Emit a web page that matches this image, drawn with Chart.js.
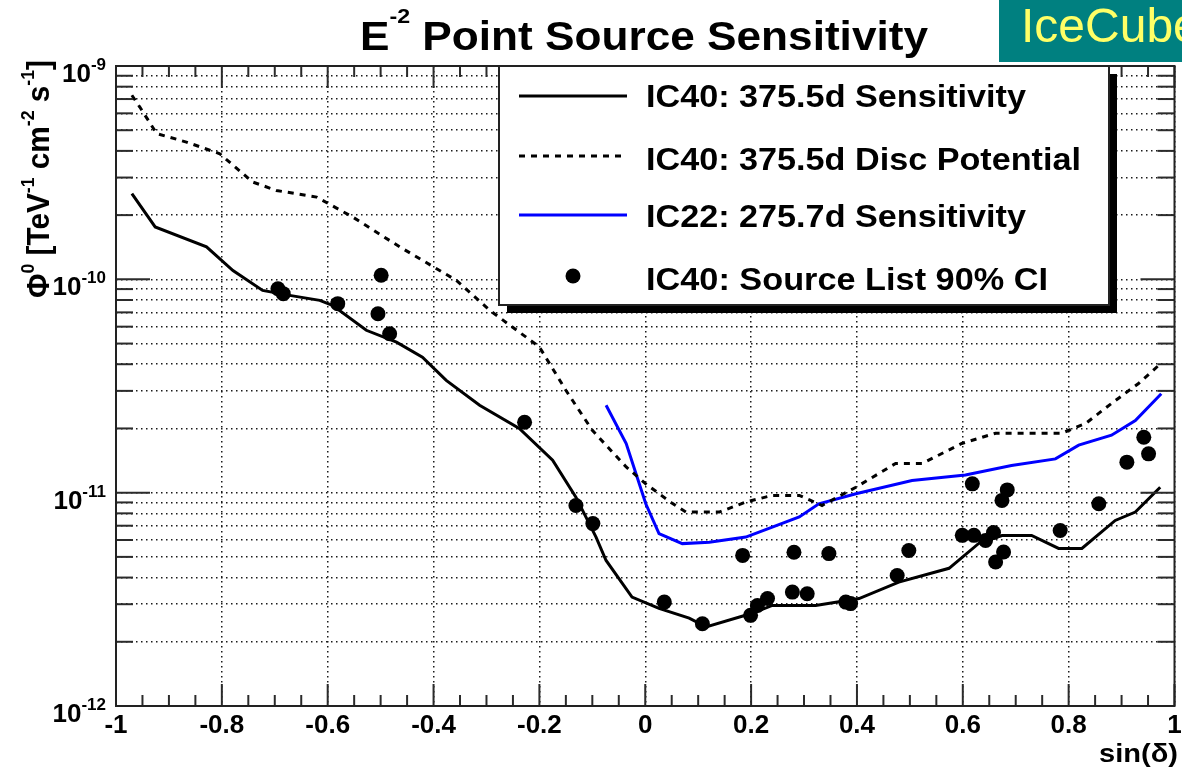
<!DOCTYPE html>
<html>
<head>
<meta charset="utf-8">
<script src="https://cdn.jsdelivr.net/npm/chart.js@4.4.1/dist/chart.umd.min.js"></script>
<style>
    html, body { margin: 0; padding: 0; background: #fff; }
    #wrap { width: 1182px; height: 770px; }
</style>
</head>
<body>
<div id="wrap"><canvas id="myChart" width="1182" height="770"></canvas></div>
<script>
// IC40 sensitivity (solid black)
const sensX = [-0.970, -0.926, -0.829, -0.779, -0.723, -0.672, -0.615, -0.591, -0.527, -0.470, -0.421, -0.376, -0.313, -0.238, -0.175, -0.131, -0.093, -0.074, -0.025, 0.026, 0.083, 0.115, 0.202, 0.240, 0.322, 0.404, 0.479, 0.574, 0.630, 0.674, 0.730, 0.781, 0.825, 0.888, 0.926, 0.973];
const sensY = [2.52e-10, 1.76e-10, 1.42e-10, 1.10e-10, 8.87e-11, 8.41e-11, 7.97e-11, 7.55e-11, 5.77e-11, 5.08e-11, 4.32e-11, 3.36e-11, 2.57e-11, 2.00e-11, 1.42e-11, 9.53e-12, 6.19e-12, 4.81e-12, 3.24e-12, 2.87e-12, 2.58e-12, 2.35e-12, 2.72e-12, 2.96e-12, 2.96e-12, 3.19e-12, 3.81e-12, 4.42e-12, 5.78e-12, 6.30e-12, 6.30e-12, 5.48e-12, 5.48e-12, 7.41e-12, 8.11e-12, 1.06e-11];

// IC40 discovery potential (dotted black)
const discX = [-0.970, -0.955, -0.923, -0.867, -0.804, -0.742, -0.697, -0.621, -0.553, -0.464, -0.357, -0.294, -0.200, -0.150, -0.100, -0.036, 0.001, 0.051, 0.077, 0.140, 0.190, 0.240, 0.291, 0.334, 0.398, 0.473, 0.523, 0.598, 0.662, 0.787, 0.832, 0.881, 0.932, 0.970];
const discY = [7.29e-10, 6.42e-10, 4.82e-10, 4.40e-10, 3.88e-10, 2.86e-10, 2.61e-10, 2.43e-10, 1.96e-10, 1.42e-10, 9.89e-11, 7.16e-11, 4.82e-11, 3.02e-11, 1.96e-11, 1.32e-11, 1.10e-11, 8.91e-12, 8.11e-12, 8.11e-12, 9.04e-12, 9.71e-12, 9.71e-12, 8.71e-12, 1.06e-11, 1.37e-11, 1.37e-11, 1.70e-11, 1.90e-11, 1.90e-11, 2.11e-11, 2.62e-11, 3.25e-11, 3.95e-11];

// IC22 sensitivity (blue)
const ic22X = [-0.074, -0.036, 0.001, 0.026, 0.070, 0.121, 0.190, 0.240, 0.291, 0.328, 0.398, 0.504, 0.605, 0.692, 0.775, 0.819, 0.881, 0.926, 0.975];
const ic22Y = [2.57e-11, 1.70e-11, 8.87e-12, 6.43e-12, 5.77e-12, 5.86e-12, 6.19e-12, 6.90e-12, 7.69e-12, 8.87e-12, 9.89e-12, 1.14e-11, 1.21e-11, 1.34e-11, 1.44e-11, 1.67e-11, 1.86e-11, 2.18e-11, 2.91e-11];

// IC40 source list 90% CI upper limits (dots)
const srcX = [-0.694, -0.684, -0.581, -0.499, -0.505, -0.483, -0.228, -0.131, -0.099, 0.036, 0.108, 0.184, 0.199, 0.212, 0.231, 0.281, 0.278, 0.306, 0.347, 0.379, 0.388, 0.476, 0.498, 0.599, 0.621, 0.643, 0.658, 0.662, 0.677, 0.674, 0.684, 0.618, 0.784, 0.857, 0.910, 0.942, 0.951];
const srcY = [9.03e-11, 8.57e-11, 7.69e-11, 1.045e-10, 6.90e-11, 5.56e-11, 2.14e-11, 8.71e-12, 7.16e-12, 3.07e-12, 2.43e-12, 5.08e-12, 2.66e-12, 2.96e-12, 3.19e-12, 5.26e-12, 3.42e-12, 3.36e-12, 5.18e-12, 3.07e-12, 3.02e-12, 4.09e-12, 5.36e-12, 6.31e-12, 6.31e-12, 5.97e-12, 6.51e-12, 4.73e-12, 5.27e-12, 9.20e-12, 1.03e-11, 1.10e-11, 6.65e-12, 8.87e-12, 1.39e-11, 1.82e-11, 1.52e-11];

const xMajor = [-1, -0.8, -0.6, -0.4, -0.2, 0, 0.2, 0.4, 0.6, 0.8, 1];
const xTickLabels = ['-1', '-0.8', '-0.6', '-0.4', '-0.2', '0', '0.2', '0.4', '0.6', '0.8', '1'];
const yDecades = [1e-12, 1e-11, 1e-10, 1e-9];
const yTickExp = ['-12', '-11', '-10', '-9'];
const mantissas = [1, 2, 3, 4, 5, 6, 7, 8, 9];

const FONT = '"Liberation Sans", Arial, Helvetica, sans-serif';

function pts(xs, ys) {
    return xs.map((x, i) => ({x: x, y: ys[i]}));
}

// all grid values of the log axis (1..9 x 10^n)
const yGrid = [];
yDecades.forEach(d => mantissas.forEach(m => {
    if (d * m <= 1.0001e-9) yGrid.push(d * m);
}));

// text made of pieces [text, size, rise], optionally squeezed to a width
function rich(ctx, parts, x, y, align, width, weight) {
    weight = weight || 'bold';
    let total = 0;
    const ws = parts.map(p => {
        ctx.font = weight + ' ' + p[1] + 'px ' + FONT;
        const w = ctx.measureText(p[0]).width;
        total += w;
        return w;
    });
    const sx = width ? width / total : 1;
    const w = total * sx;
    const start = align === 'right' ? x - w : (align === 'center' ? x - w / 2 : x);
    ctx.save();
    ctx.translate(start, y);
    ctx.scale(sx, 1);
    ctx.textBaseline = 'alphabetic';
    ctx.textAlign = 'left';
    let cx = 0;
    parts.forEach((p, i) => {
        ctx.font = weight + ' ' + p[1] + 'px ' + FONT;
        ctx.fillText(p[0], cx, -p[2]);
        cx += ws[i];
    });
    ctx.restore();
}

function seg(ctx, x1, y1, x2, y2) {
    ctx.beginPath();
    ctx.moveTo(x1, y1);
    ctx.lineTo(x2, y2);
    ctx.stroke();
}

const rootStyle = {
    id: 'rootStyle',
    afterDatasetsDraw(chart) {
        const ctx = chart.ctx;
        const a = chart.chartArea;
        const xs = chart.scales.x, ys = chart.scales.y;
        ctx.save();
        ctx.strokeStyle = '#2b2b2b';
        ctx.lineWidth = 2;
        ctx.setLineDash([]);
        // x ticks every 0.05, long ones every 0.2
        for (let i = 0; i <= 40; i++) {
            const px = xs.getPixelForValue(-1 + i * 0.05);
            const len = i % 4 === 0 ? 22 : 11;
            seg(ctx, px, a.bottom, px, a.bottom - len);
            seg(ctx, px, a.top, px, a.top + len);
        }
        // y ticks on both sides
        yGrid.forEach(v => {
            const py = ys.getPixelForValue(v);
            const isDec = yDecades.some(d => Math.abs(d - v) / d < 1e-6);
            const len = isDec ? 34 : 17;
            seg(ctx, a.left, py, a.left + len, py);
            seg(ctx, a.right, py, a.right - len, py);
        });
        ctx.strokeStyle = '#222';
        ctx.strokeRect(a.left, a.top, a.right - a.left, a.bottom - a.top);
        ctx.restore();
    },
    afterDraw(chart) {
        const ctx = chart.ctx;
        const a = chart.chartArea;
        const xs = chart.scales.x, ys = chart.scales.y;
        ctx.save();
        ctx.fillStyle = '#000';

        // tick labels
        xMajor.forEach((v, i) => {
            rich(ctx, [[xTickLabels[i], 26, 0]], xs.getPixelForValue(v), a.bottom + 27, 'center');
        });
        yDecades.forEach((d, i) => {
            const py = ys.getPixelForValue(d);
            rich(ctx, [['10', 26, 0], [yTickExp[i], 17, 12]], 106, py + 16, 'right');
        });

        // axis titles
        rich(ctx, [['sin(\u03b4)', 26, 0]], 1178, 762, 'right', 79);
        ctx.save();
        ctx.translate(49, 298);
        ctx.rotate(-Math.PI / 2);
        rich(ctx, [['\u03a6', 32, 0], ['0', 19, 15], [' [TeV', 32, 0], ['-1', 19, 15], [' cm', 32, 0], ['-2', 19, 15], [' s', 32, 0], ['-1', 19, 15], [']', 32, 0]], 0, 0, 'left', 238);
        ctx.restore();

        // title
        rich(ctx, [['E', 40, 0], ['-2', 21, 27], [' Point Source Sensitivity', 40, 0]], 360, 50, 'left', 568);

        // IceCube label
        ctx.fillStyle = '#008080';
        ctx.fillRect(999, 0, 183, 62);
        ctx.fillStyle = '#ffff66';
        rich(ctx, [['IceCube', 48, 0]], 1021, 42, 'left', null, 'normal');

        // legend box with shadow
        const lx = 499, ly = 66, lw = 610, lh = 239;
        ctx.fillStyle = '#000';
        ctx.fillRect(lx + 8, ly + 8, lw, lh);
        ctx.fillStyle = '#fff';
        ctx.fillRect(lx, ly, lw, lh);
        ctx.strokeStyle = '#222';
        ctx.lineWidth = 2;
        ctx.strokeRect(lx, ly, lw, lh);

        const ds = chart.data.datasets;
        const rows = [
            {y: 96, base: 107, w: 380},
            {y: 156, base: 170, w: 435},
            {y: 215, base: 227, w: 380},
            {y: 276, base: 290, w: 402}
        ];
        rows.forEach((r, i) => {
            const d = ds[i];
            if (d.showLine) {
                ctx.strokeStyle = d.borderColor;
                ctx.lineWidth = d.borderWidth;
                ctx.setLineDash(d.borderDash || []);
                seg(ctx, 519, r.y, 627, r.y);
                ctx.setLineDash([]);
            } else {
                ctx.fillStyle = d.backgroundColor;
                ctx.beginPath();
                ctx.arc(573, r.y, d.pointRadius, 0, Math.PI * 2);
                ctx.fill();
            }
            ctx.fillStyle = '#000';
            rich(ctx, [[d.label, 31, 0]], 646, r.base, 'left', r.w);
        });
        ctx.restore();
    }
};

const ctx = document.getElementById('myChart').getContext('2d');
const data = {
    datasets: [{
        label: 'IC40: 375.5d Sensitivity',
        data: pts(sensX, sensY),
        showLine: true,
        borderColor: '#000',
        borderWidth: 3,
        pointRadius: 0
    },
        {
            label: 'IC40: 375.5d Disc Potential',
            data: pts(discX, discY),
            showLine: true,
            borderColor: '#000',
            borderWidth: 3,
            borderDash: [6, 6],
            pointRadius: 0
        },
        {
            label: 'IC22: 275.7d Sensitivity',
            data: pts(ic22X, ic22Y),
            showLine: true,
            borderColor: '#0000ff',
            borderWidth: 3,
            pointRadius: 0
        },
        {
            label: 'IC40: Source List 90% CI',
            data: pts(srcX, srcY),
            showLine: false,
            backgroundColor: '#000',
            borderWidth: 0,
            pointRadius: 7.5
        }]
};
const config = {
    type: 'scatter',
    data: data,
    options: {
        responsive: false,
        animation: false,
        devicePixelRatio: 1,
        layout: {padding: {left: 116, top: 66, right: 6, bottom: 64}},
        plugins: {
            legend: {display: false},
            tooltip: {enabled: false},
            title: {display: false}
        },
        scales: {
            x: {
                type: 'linear',
                min: -1,
                max: 1,
                afterBuildTicks: scale => { scale.ticks = xMajor.map(v => ({value: v})); },
                afterFit: scale => { scale.height = 0; },
                ticks: {display: false},
                grid: {color: '#1a1a1a', lineWidth: 1.5, drawTicks: false},
                border: {display: false, dash: [1.5, 3.5]}
            },
            y: {
                type: 'logarithmic',
                min: 1e-12,
                max: 1e-9,
                afterBuildTicks: scale => { scale.ticks = yGrid.map(v => ({value: v})); },
                afterFit: scale => { scale.width = 0; },
                ticks: {display: false},
                grid: {color: '#1a1a1a', lineWidth: 1.5, drawTicks: false},
                border: {display: false, dash: [1.5, 3.5]}
            }
        }
    },
    plugins: [rootStyle]
};
const myChart = new Chart(ctx, config);
</script>
</body>
</html>
